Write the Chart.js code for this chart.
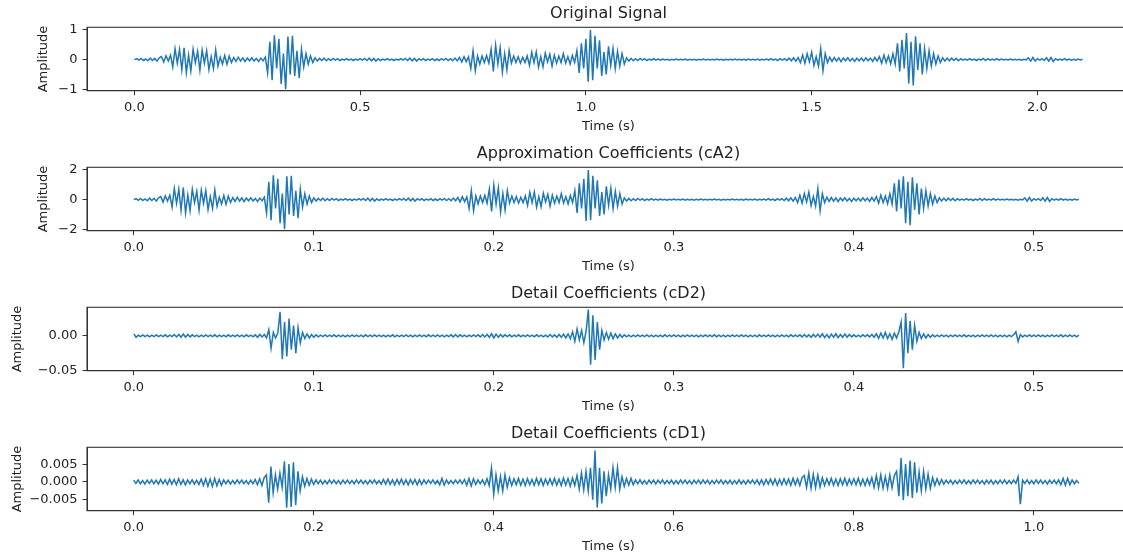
<!DOCTYPE html>
<html>
<head>
<meta charset="utf-8">
<title>Wavelet decomposition</title>
<script src="https://cdn.jsdelivr.net/npm/chart.js@4.4.1/dist/chart.umd.min.js"></script>
<style>
  html, body { margin: 0; padding: 0; background: #ffffff; overflow: hidden; width: 1123px; height: 556px; }
  .panel { position: absolute; left: 0; width: 1135px; height: 140px; }
</style>
</head>
<body>
<div class="panel" style="top:0px"><canvas id="p0" width="1135" height="140"></canvas></div>
<div class="panel" style="top:140px"><canvas id="p1" width="1135" height="140"></canvas></div>
<div class="panel" style="top:280px"><canvas id="p2" width="1135" height="140"></canvas></div>
<div class="panel" style="top:420px"><canvas id="p3" width="1135" height="140"></canvas></div>
<script>
// ---- Original signal, sampled every 5 ms ----
const originalStep = 0.005;
const originalSignal = [
  0, 0.03, -0.02, 0.04, -0.03, 0.02, -0.04, 0.05, -0.03, 0.04,
  -0.05, 0.06, 0.1, -0.08, 0.13, -0.05, 0.15, -0.25, 0.37, -0.12,
  0.34, -0.35, 0.4, -0.44, 0.15, -0.38, 0.35, -0.1, 0.28, -0.36,
  0.32, -0.12, 0.3, -0.34, 0.1, -0.3, 0.33, -0.22, 0.08, -0.15,
  0.14, -0.16, 0.12, -0.1, 0.07, -0.06, 0.08, -0.05, 0.06, -0.07,
  0.05, -0.04, 0.06, -0.05, 0.04, -0.06, 0.05, -0.04, 0.08, -0.45,
  0.6, -0.7, 0.82, -0.3, 0.7, -0.82, 0.2, -1.0, 0.78, -0.5,
  0.8, -0.55, 0.3, -0.62, 0.35, -0.25, 0.2, -0.15, 0.12, -0.1,
  0.06, -0.05, 0.04, -0.03, 0.05, -0.04, 0.03, -0.03, 0.04, -0.02,
  0.03, -0.03, 0.02, -0.02, 0.03, -0.02, 0.02, -0.03, 0.02, -0.02,
  0.03, -0.02, 0.04, -0.03, 0.05, -0.04, 0.04, -0.05, 0.03, -0.03,
  0.02, -0.02, 0.03, -0.02, 0.02, -0.03, 0.02, -0.02, 0.03, -0.02,
  0.04, -0.03, 0.05, -0.04, 0.04, -0.05, 0.03, -0.02, 0.03, -0.03,
  0.02, -0.02, 0.03, -0.03, 0.02, -0.03, 0.03, -0.02, 0.04, -0.03,
  0.03, -0.04, 0.05, -0.04, 0.07, -0.08, 0.1, -0.07, 0.09, -0.3,
  0.3, -0.38, 0.12, -0.15, 0.12, -0.1, 0.14, -0.12, 0.35, -0.4,
  0.48, -0.15, 0.4, -0.42, 0.2, -0.35, 0.3, -0.12, 0.12, -0.1,
  0.1, -0.12, 0.08, -0.1, 0.12, -0.2, 0.25, -0.1, 0.26, -0.25,
  0.1, -0.24, 0.22, -0.08, 0.18, -0.22, 0.15, -0.12, 0.12, -0.1,
  0.2, -0.12, 0.1, -0.15, 0.14, -0.1, 0.3, -0.45, 0.55, -0.3,
  0.7, -0.75, 1.0, -0.7, 0.8, -0.3, 0.65, -0.55, 0.25, -0.5,
  0.45, -0.2, 0.38, -0.3, 0.28, -0.22, 0.2, -0.15, 0.06, -0.05,
  0.04, -0.04, 0.03, -0.03, 0.04, -0.02, 0.03, -0.03, 0.02, -0.02,
  0.03, -0.02, 0.02, -0.02, 0.02, -0.01, 0.01, -0.02, 0.01, -0.01,
  0.02, -0.01, 0.01, -0.01, 0.02, -0.02, 0.01, -0.01, 0.01, -0.02,
  0.01, -0.01, 0.02, -0.01, 0.01, -0.01, 0.01, -0.01, 0.02, -0.01,
  0.01, -0.02, 0.01, -0.01, 0.01, -0.01, 0.02, -0.01, 0.01, -0.01,
  0.01, -0.02, 0.02, -0.01, 0.01, -0.01, 0.02, -0.02, 0.01, -0.01,
  0.02, -0.02, 0.03, -0.02, 0.02, -0.03, 0.03, -0.02, 0.03, -0.03,
  0.05, -0.04, 0.06, -0.05, 0.07, -0.1, 0.15, -0.12, 0.2, -0.08,
  0.25, -0.2, 0.1, -0.22, 0.37, -0.38, 0.2, -0.1, 0.08, -0.06,
  0.07, -0.05, 0.06, -0.07, 0.05, -0.04, 0.06, -0.05, 0.04, -0.06,
  0.05, -0.04, 0.05, -0.05, 0.06, -0.04, 0.05, -0.06, 0.07, -0.05,
  0.1, -0.12, 0.15, -0.1, 0.12, -0.14, 0.2, -0.15, 0.55, -0.4,
  0.67, -0.3, 0.9, -0.81, 0.6, -0.87, 0.79, -0.35, 0.55, -0.5,
  0.37, -0.3, 0.3, -0.22, 0.2, -0.15, 0.12, -0.1, 0.06, -0.05,
  0.05, -0.04, 0.05, -0.03, 0.04, -0.04, 0.03, -0.02, 0.02, -0.02,
  0.03, -0.02, 0.02, -0.03, 0.02, -0.02, 0.04, -0.03, 0.03, -0.02,
  0.02, -0.02, 0.03, -0.02, 0.02, -0.01, 0.01, -0.01, 0.02, -0.01,
  0.01, -0.01, 0.01, -0.02, 0.01, -0.01, 0.06, -0.05, 0.07, -0.05,
  0.03, -0.02, 0.03, -0.03, 0.06, -0.05, 0.07, -0.06, 0.03, -0.02,
  0.02, -0.02, 0.03, -0.02, 0.02, -0.02, 0.01, -0.02, 0.02, -0.01,
  0.01
];

// ---- Level-2 approximation coefficients (cA2) ----
const approxStep = 0.00125;
const approxCA2 = [
  0, 0.06, -0.05, 0.08, -0.06, 0.05, -0.08, 0.1, -0.06, 0.09,
  -0.1, 0.12, 0.2, -0.17, 0.26, -0.1, 0.3, -0.5, 0.75, -0.25,
  0.7, -0.72, 0.82, -0.9, 0.3, -0.75, 0.7, -0.2, 0.56, -0.72,
  0.64, -0.25, 0.6, -0.68, 0.2, -0.6, 0.66, -0.45, 0.16, -0.3,
  0.28, -0.32, 0.24, -0.2, 0.14, -0.12, 0.16, -0.1, 0.12, -0.14,
  0.1, -0.08, 0.12, -0.1, 0.08, -0.12, 0.1, -0.08, 0.16, -0.9,
  1.2, -1.4, 1.64, -0.6, 1.4, -1.6, 0.4, -2.0, 1.57, -1.0,
  1.6, -1.1, 0.6, -1.25, 0.7, -0.5, 0.4, -0.3, 0.24, -0.2,
  0.12, -0.1, 0.08, -0.06, 0.1, -0.08, 0.06, -0.06, 0.08, -0.04,
  0.06, -0.06, 0.04, -0.04, 0.06, -0.04, 0.04, -0.06, 0.04, -0.04,
  0.06, -0.04, 0.08, -0.06, 0.1, -0.08, 0.08, -0.1, 0.06, -0.06,
  0.04, -0.04, 0.06, -0.04, 0.04, -0.06, 0.04, -0.04, 0.06, -0.04,
  0.08, -0.06, 0.1, -0.08, 0.08, -0.1, 0.06, -0.04, 0.06, -0.06,
  0.04, -0.04, 0.06, -0.06, 0.04, -0.06, 0.06, -0.04, 0.08, -0.06,
  0.06, -0.08, 0.1, -0.08, 0.14, -0.16, 0.2, -0.14, 0.18, -0.6,
  0.6, -0.76, 0.24, -0.3, 0.24, -0.2, 0.28, -0.24, 0.7, -0.8,
  0.96, -0.3, 0.8, -0.84, 0.4, -0.7, 0.6, -0.24, 0.24, -0.2,
  0.2, -0.24, 0.16, -0.2, 0.24, -0.4, 0.5, -0.2, 0.52, -0.5,
  0.2, -0.48, 0.44, -0.16, 0.36, -0.44, 0.3, -0.24, 0.24, -0.2,
  0.4, -0.24, 0.2, -0.3, 0.28, -0.2, 0.6, -0.9, 1.1, -0.6,
  1.4, -1.45, 2.0, -1.4, 1.6, -0.6, 1.3, -1.1, 0.5, -1.0,
  0.9, -0.4, 0.76, -0.6, 0.56, -0.44, 0.4, -0.3, 0.12, -0.1,
  0.08, -0.08, 0.06, -0.06, 0.08, -0.04, 0.06, -0.06, 0.04, -0.04,
  0.06, -0.04, 0.04, -0.04, 0.04, -0.02, 0.02, -0.04, 0.02, -0.02,
  0.04, -0.02, 0.02, -0.02, 0.04, -0.04, 0.02, -0.02, 0.02, -0.04,
  0.02, -0.02, 0.04, -0.02, 0.02, -0.02, 0.02, -0.02, 0.04, -0.02,
  0.02, -0.04, 0.02, -0.02, 0.02, -0.02, 0.04, -0.02, 0.02, -0.02,
  0.02, -0.04, 0.04, -0.02, 0.02, -0.02, 0.04, -0.04, 0.02, -0.02,
  0.04, -0.04, 0.06, -0.04, 0.04, -0.06, 0.06, -0.04, 0.06, -0.06,
  0.1, -0.08, 0.12, -0.1, 0.14, -0.2, 0.3, -0.24, 0.4, -0.16,
  0.5, -0.4, 0.2, -0.44, 0.74, -0.76, 0.4, -0.2, 0.16, -0.12,
  0.14, -0.1, 0.12, -0.14, 0.1, -0.08, 0.12, -0.1, 0.08, -0.12,
  0.1, -0.08, 0.1, -0.1, 0.12, -0.08, 0.1, -0.12, 0.14, -0.1,
  0.2, -0.24, 0.3, -0.2, 0.24, -0.28, 0.4, -0.3, 1.1, -0.8,
  1.35, -0.6, 1.57, -1.6, 1.2, -1.73, 1.5, -0.7, 1.1, -1.0,
  0.74, -0.6, 0.6, -0.44, 0.4, -0.3, 0.24, -0.2, 0.12, -0.1,
  0.1, -0.08, 0.1, -0.06, 0.08, -0.08, 0.06, -0.04, 0.04, -0.04,
  0.06, -0.04, 0.04, -0.06, 0.04, -0.04, 0.08, -0.06, 0.06, -0.04,
  0.04, -0.04, 0.06, -0.04, 0.04, -0.02, 0.02, -0.02, 0.04, -0.02,
  0.02, -0.02, 0.02, -0.04, 0.02, -0.02, 0.12, -0.1, 0.14, -0.1,
  0.06, -0.04, 0.06, -0.06, 0.12, -0.1, 0.14, -0.12, 0.06, -0.04,
  0.04, -0.04, 0.06, -0.04, 0.04, -0.04, 0.02, -0.04, 0.04, -0.02,
  0.02
];

// ---- Level-2 detail coefficients (cD2) ----
const detailCD2Step = 0.00125;
const detailCD2 = [
  0.003, -0.002, 0.001, -0.001, 0.0015, -0.001, 0.001, -0.0015, 0.001, -0.001,
  0.0015, -0.001, 0.001, -0.001, 0.0015, -0.0015, 0.001, -0.001, 0.002, -0.0015,
  0.002, -0.002, 0.0025, -0.002, 0.002, -0.0015, 0.0015, -0.001, 0.001, -0.0015,
  0.001, -0.001, 0.0015, -0.001, 0.001, -0.001, 0.0015, -0.0015, 0.001, -0.001,
  0.001, -0.0015, 0.0015, -0.001, 0.001, -0.001, 0.0015, -0.001, 0.001, -0.0015,
  0.0015, -0.001, 0.001, -0.0015, 0.0015, -0.002, 0.002, -0.0015, 0.002, -0.003,
  0.009, -0.018, 0.005, -0.003, 0.004, 0.035, -0.034, 0.02, -0.03, 0.025,
  -0.02, 0.015, -0.025, 0.012, -0.01, 0.005, -0.004, 0.003, -0.003, 0.002,
  -0.002, 0.0015, -0.0015, 0.001, -0.001, 0.0015, -0.001, 0.001, -0.001, 0.0015,
  -0.0015, 0.001, -0.001, 0.001, -0.0015, 0.001, -0.001, 0.0015, -0.001, 0.001,
  -0.001, 0.001, -0.0015, 0.0015, -0.001, 0.001, -0.001, 0.0015, -0.001, 0.001,
  -0.001, 0.001, -0.0015, 0.001, -0.001, 0.0015, -0.0015, 0.001, -0.001, 0.001,
  -0.001, 0.0015, -0.001, 0.001, -0.0015, 0.001, -0.001, 0.0015, -0.001, 0.001,
  -0.0015, 0.0015, -0.001, 0.001, -0.001, 0.0015, -0.001, 0.001, -0.0015, 0.001,
  -0.001, 0.0015, -0.0015, 0.002, -0.0015, 0.0015, -0.001, 0.001, -0.0015, 0.001,
  -0.001, 0.0015, -0.001, 0.0015, -0.0015, 0.002, -0.0015, 0.002, -0.002, 0.003,
  -0.003, 0.0025, -0.002, 0.002, -0.0015, 0.0015, -0.001, 0.0015, -0.0015, 0.001,
  -0.001, 0.0015, -0.0015, 0.001, -0.001, 0.0015, -0.001, 0.001, -0.0015, 0.0015,
  -0.001, 0.001, -0.0015, 0.001, -0.0015, 0.002, -0.0015, 0.0015, -0.002, 0.002,
  -0.002, 0.0025, -0.003, 0.003, -0.004, 0.006, -0.008, 0.01, -0.006, 0.008,
  -0.01, 0.007, 0.038, -0.042, 0.03, -0.035, 0.02, -0.02, 0.008, -0.006,
  0.005, -0.005, 0.004, -0.004, 0.003, -0.003, 0.002, -0.002, 0.0015, -0.0015,
  0.001, -0.0015, 0.001, -0.001, 0.0015, -0.001, 0.001, -0.001, 0.0015, -0.001,
  0.001, -0.0015, 0.001, -0.001, 0.001, -0.0015, 0.0015, -0.001, 0.001, -0.001,
  0.0015, -0.001, 0.001, -0.0015, 0.001, -0.001, 0.0015, -0.001, 0.001, -0.001,
  0.001, -0.0015, 0.001, -0.001, 0.0015, -0.001, 0.001, -0.001, 0.0015, -0.0015,
  0.001, -0.001, 0.001, -0.0015, 0.001, -0.001, 0.0015, -0.001, 0.001, -0.001,
  0.0015, -0.001, 0.001, -0.0015, 0.001, -0.001, 0.001, -0.0015, 0.0015, -0.001,
  0.001, -0.001, 0.0015, -0.001, 0.001, -0.0015, 0.001, -0.001, 0.0015, -0.001,
  0.001, -0.0015, 0.0015, -0.001, 0.001, -0.001, 0.0015, -0.0015, 0.002, -0.0015,
  0.0015, -0.002, 0.002, -0.0015, 0.0025, -0.002, 0.003, -0.0025, 0.002, -0.003,
  0.0025, -0.002, 0.003, -0.0025, 0.002, -0.002, 0.0025, -0.002, 0.002, -0.0015,
  0.0015, -0.0015, 0.001, -0.0015, 0.0015, -0.001, 0.0015, -0.0015, 0.002, -0.002,
  0.003, -0.0035, 0.004, -0.003, 0.005, -0.004, 0.003, -0.005, 0.004, -0.003,
  0.006, 0.02, -0.047, 0.033, -0.025, 0.022, -0.02, 0.015, -0.008, 0.005,
  -0.004, 0.003, -0.003, 0.002, -0.002, 0.0015, -0.0015, 0.001, -0.001, 0.0015,
  -0.001, 0.001, -0.0015, 0.001, -0.001, 0.0015, -0.001, 0.001, -0.001, 0.0015,
  -0.0015, 0.001, -0.001, 0.001, -0.0015, 0.001, -0.001, 0.0015, -0.001, 0.001,
  -0.001, 0.0015, -0.001, 0.001, -0.0015, 0.001, -0.001, 0.001, -0.0015, 0.001,
  -0.001, 0.0015, 0.006, -0.008, 0.002, -0.0015, 0.001, -0.001, 0.0015, -0.001,
  0.001, -0.001, 0.0015, -0.001, 0.001, -0.0015, 0.001, -0.001, 0.0015, -0.001,
  0.001, -0.001, 0.0015, -0.0015, 0.001, -0.001, 0.0015, -0.001, 0.001, -0.0015,
  0.001
];

// ---- Level-1 detail coefficients (cD1) ----
const detailCD1Step = 0.0025;
const detailCD1 = [
  0.0005, -0.0004, 0.0006, -0.0005, 0.0004, -0.0006, 0.0005, -0.0004, 0.0006, -0.0005,
  0.0005, -0.0006, 0.0007, -0.0005, 0.0006, -0.0007, 0.0008, -0.0006, 0.0007, -0.0008,
  0.0009, -0.0007, 0.0006, -0.0008, 0.0006, -0.0005, 0.0006, -0.0006, 0.0005, -0.0007,
  0.0008, -0.001, 0.0009, -0.0012, 0.0008, -0.0013, 0.001, -0.0011, 0.0007, -0.0009,
  0.0006, -0.0005, 0.0005, -0.0006, 0.0004, -0.0005, 0.0006, -0.0004, 0.0005, -0.0005,
  0.0004, -0.0006, 0.0005, -0.0005, 0.0007, -0.0008, 0.0009, -0.001, 0.0012, 0.002,
  -0.0058, 0.0043, -0.003, 0.002, -0.002, 0.0025, -0.0015, 0.0058, -0.0072, 0.005,
  -0.007, 0.0055, -0.0065, 0.003, -0.0025, 0.0015, -0.0012, 0.001, -0.0009, 0.0008,
  -0.0007, 0.0006, -0.0005, 0.0005, -0.0006, 0.0004, -0.0005, 0.0006, -0.0004, 0.0005,
  -0.0005, 0.0004, -0.0006, 0.0005, -0.0004, 0.0005, -0.0005, 0.0004, -0.0005, 0.0006,
  -0.0004, 0.0005, -0.0005, 0.0004, -0.0006, 0.0005, -0.0004, 0.0006, -0.0005, 0.0004,
  -0.0006, 0.0007, -0.0006, 0.0008, -0.0007, 0.0006, -0.0008, 0.0007, -0.0006, 0.0008,
  -0.0007, 0.0006, -0.0008, 0.0007, -0.0006, 0.0007, -0.0008, 0.0006, -0.0007, 0.0006,
  -0.0005, 0.0005, -0.0004, 0.0006, -0.0005, 0.0004, -0.0008, 0.001, -0.0009, 0.0006,
  -0.0005, 0.0004, -0.0005, 0.0005, -0.0004, 0.0006, -0.0005, 0.0007, -0.0009, 0.001,
  -0.0011, 0.0009, -0.0007, 0.0006, -0.0005, 0.0006, -0.0008, 0.0009, -0.001, 0.0039,
  -0.0034, 0.002, -0.0025, 0.0015, -0.0025, 0.002, -0.0015, 0.0012, -0.001, 0.0009,
  -0.0008, 0.001, -0.0009, 0.0008, -0.001, 0.0009, -0.0008, 0.0007, -0.0009, 0.001,
  -0.0008, 0.0009, -0.001, 0.0008, -0.0007, 0.0009, -0.0008, 0.001, -0.0009, 0.0008,
  -0.001, 0.0011, -0.0009, 0.001, -0.0012, 0.0011, -0.001, 0.0018, -0.002, 0.0025,
  -0.0022, 0.003, -0.0025, 0.004, -0.005, 0.0088, -0.0072, 0.004, -0.006, 0.003,
  -0.004, 0.002, -0.002, 0.004, -0.0015, 0.004, -0.002, 0.0015, -0.0012, 0.001,
  -0.0009, 0.001, -0.0008, 0.0006, -0.0005, 0.0006, -0.0005, 0.0004, -0.0006, 0.0005,
  -0.0004, 0.0005, -0.0006, 0.0005, -0.0004, 0.0006, -0.0005, 0.0004, -0.0005, 0.0005,
  -0.0006, 0.0004, -0.0005, 0.0006, -0.0004, 0.0005, -0.0005, 0.0004, -0.0006, 0.0005,
  -0.0004, 0.0005, -0.0005, 0.0006, -0.0004, 0.0005, -0.0006, 0.0004, -0.0005, 0.0005,
  -0.0004, 0.0006, -0.0005, 0.0004, -0.0005, 0.0005, -0.0006, 0.0004, -0.0005, 0.0006,
  -0.0005, 0.0004, -0.0006, 0.0005, -0.0004, 0.0006, -0.0005, 0.0006, -0.0007, 0.0006,
  -0.0008, 0.0007, -0.0006, 0.0008, -0.0007, 0.0008, -0.0009, 0.0007, -0.0008, 0.0009,
  -0.0007, 0.0008, -0.0009, 0.001, -0.0008, 0.0009, -0.001, 0.0012, 0.0018, -0.0015,
  0.0025, -0.0018, 0.0022, -0.0016, 0.002, -0.0014, 0.0012, -0.001, 0.0009, -0.0008,
  0.001, -0.0009, 0.0008, -0.001, 0.0009, -0.0008, 0.001, -0.0009, 0.0008, -0.0007,
  0.0009, -0.0008, 0.001, -0.0009, 0.0008, -0.001, 0.0009, -0.0008, 0.0012, -0.0015,
  0.0018, -0.0016, 0.002, -0.0017, 0.0015, -0.0018, 0.002, -0.0016, 0.0018, 0.003,
  -0.004, 0.0067, -0.0051, 0.005, -0.004, 0.006, -0.0045, 0.0055, -0.003, 0.0028,
  -0.0025, 0.003, -0.002, 0.0022, -0.0018, 0.0012, -0.001, 0.0009, -0.0008, 0.0007,
  -0.0006, 0.0005, -0.0004, 0.0005, -0.0006, 0.0004, -0.0005, 0.0005, -0.0004, 0.0006,
  -0.0005, 0.0004, -0.0005, 0.0006, -0.0004, 0.0005, -0.0005, 0.0004, -0.0006, 0.0005,
  -0.0004, 0.0005, -0.0006, 0.0004, -0.0005, 0.0005, -0.0004, 0.0006, -0.0005, 0.0004,
  -0.0005, 0.0005, -0.0004, 0.0015, -0.0062, 0.0005, -0.0004, 0.0006, -0.0005, 0.0004,
  -0.0005, 0.0006, -0.0004, 0.0005, -0.0005, 0.0004, -0.0006, 0.0005, -0.0004, 0.0005,
  -0.0005, 0.0006, -0.0008, 0.001, -0.0009, 0.001, -0.0008, 0.0006, -0.0005, 0.0004,
  -0.0004
];

// ---- Titles and tick labels ----
const panelTitles = [
  'Original Signal',
  'Approximation Coefficients (cA2)',
  'Detail Coefficients (cD2)',
  'Detail Coefficients (cD1)'
];
const timeTicksOriginal = [0, 0.5, 1.0, 1.5, 2.0];
const timeLabelsOriginal = ['0.0', '0.5', '1.0', '1.5', '2.0'];
const timeTicksLevel2 = [0, 0.1, 0.2, 0.3, 0.4, 0.5];
const timeLabelsLevel2 = ['0.0', '0.1', '0.2', '0.3', '0.4', '0.5'];
const timeTicksLevel1 = [0, 0.2, 0.4, 0.6, 0.8, 1.0];
const timeLabelsLevel1 = ['0.0', '0.2', '0.4', '0.6', '0.8', '1.0'];
const ampTicksOriginal = [-1, 0, 1];
const ampLabelsOriginal = ['\u22121', '0', '1'];
const ampTicksCA2 = [-2, 0, 2];
const ampLabelsCA2 = ['\u22122', '0', '2'];
const ampTicksCD2 = [-0.05, 0];
const ampLabelsCD2 = ['\u22120.05', '0.00'];
const ampTicksCD1 = [-0.005, 0, 0.005];
const ampLabelsCD1 = ['\u22120.005', '0.000', '0.005'];

// ---- Rendering ----
Chart.defaults.font.family = "'DejaVu Sans', sans-serif";
Chart.defaults.color = '#222';

const TEXT = '#222';
const SPINE = '#333';
const LINE = '#1f77b4';

// Full rectangular frame around each plotting area
const frame = {
  id: 'frame',
  afterDatasetsDraw(chart) {
    const { left, top, right, bottom } = chart.chartArea;
    const c = chart.ctx;
    c.save();
    c.strokeStyle = SPINE;
    c.lineWidth = 1.1;
    c.strokeRect(left, top, right - left, bottom - top);
    c.restore();
  }
};

function drawPanel(id, p) {
  const points = p.values.map((v, i) => ({ x: i * p.step, y: v }));
  return new Chart(document.getElementById(id), {
    type: 'line',
    data: {
      datasets: [{
        data: points,
        borderColor: LINE,
        borderWidth: 1.5,
        pointRadius: 0,
        tension: 0,
        fill: false
      }]
    },
    options: {
      responsive: false,
      animation: false,
      devicePixelRatio: 1,
      layout: { padding: { left: 0, right: 5, top: 0, bottom: 0 } },
      plugins: {
        legend: { display: false },
        tooltip: { enabled: false },
        title: {
          display: true,
          text: p.title,
          fullSize: false,
          color: TEXT,
          font: { size: 16, weight: 'normal' },
          padding: { top: 4.4, bottom: 3.7 }
        }
      },
      scales: {
        x: {
          type: 'linear',
          min: p.xMin,
          max: p.xMax,
          bounds: 'data',
          afterBuildTicks: s => { s.ticks = p.xTicks.map(v => ({ value: v })); },
          afterFit: s => { s.height = 49.3; },
          ticks: {
            autoSkip: false, maxRotation: 0, padding: 5, color: TEXT,
            font: { size: 13 },
            callback: (v, i) => p.xLabels[i]
          },
          grid: { display: true, drawOnChartArea: false, drawTicks: true, tickLength: 4.5, color: SPINE, tickWidth: 1 },
          border: { display: true, color: SPINE, width: 1 },
          title: { display: true, text: 'Time (s)', color: TEXT, font: { size: 13 }, padding: { top: 0, bottom: 5.7 } }
        },
        y: {
          type: 'linear',
          min: p.yMin,
          max: p.yMax,
          bounds: 'data',
          afterBuildTicks: s => { s.ticks = p.yTicks.map(v => ({ value: v })); },
          afterFit: s => { s.width = 87; },
          ticks: {
            autoSkip: false, padding: 5, color: TEXT,
            font: { size: 13 },
            callback: (v, i) => p.yLabels[i]
          },
          grid: { display: true, drawOnChartArea: false, drawTicks: true, tickLength: 4.5, color: SPINE, tickWidth: 1 },
          border: { display: true, color: SPINE, width: 1 },
          title: { display: true, text: 'Amplitude', color: TEXT, font: { size: 13 }, padding: { top: p.yTitlePad, bottom: 0 } }
        }
      }
    },
    plugins: [frame]
  });
}

drawPanel('p0', {
  title: panelTitles[0], values: originalSignal, step: originalStep,
  xMin: -0.105, xMax: 2.205, xTicks: timeTicksOriginal, xLabels: timeLabelsOriginal,
  yMin: -1.05, yMax: 1.09, yTicks: ampTicksOriginal, yLabels: ampLabelsOriginal, yTitlePad: 35.6
});
drawPanel('p1', {
  title: panelTitles[1], values: approxCA2, step: approxStep,
  xMin: -0.026, xMax: 0.5534, xTicks: timeTicksLevel2, xLabels: timeLabelsLevel2,
  yMin: -2.1, yMax: 2.18, yTicks: ampTicksCA2, yLabels: ampLabelsCA2, yTitlePad: 35.6
});
drawPanel('p2', {
  title: panelTitles[2], values: detailCD2, step: detailCD2Step,
  xMin: -0.026, xMax: 0.5534, xTicks: timeTicksLevel2, xLabels: timeLabelsLevel2,
  yMin: -0.0505, yMax: 0.0414, yTicks: ampTicksCD2, yLabels: ampLabelsCD2, yTitlePad: 10.1
});
drawPanel('p3', {
  title: panelTitles[3], values: detailCD1, step: detailCD1Step,
  xMin: -0.0518, xMax: 1.1068, xTicks: timeTicksLevel1, xLabels: timeLabelsLevel1,
  yMin: -0.00806, yMax: 0.00973, yTicks: ampTicksCD1, yLabels: ampLabelsCD1, yTitlePad: 10.1
});
</script>
</body>
</html>
